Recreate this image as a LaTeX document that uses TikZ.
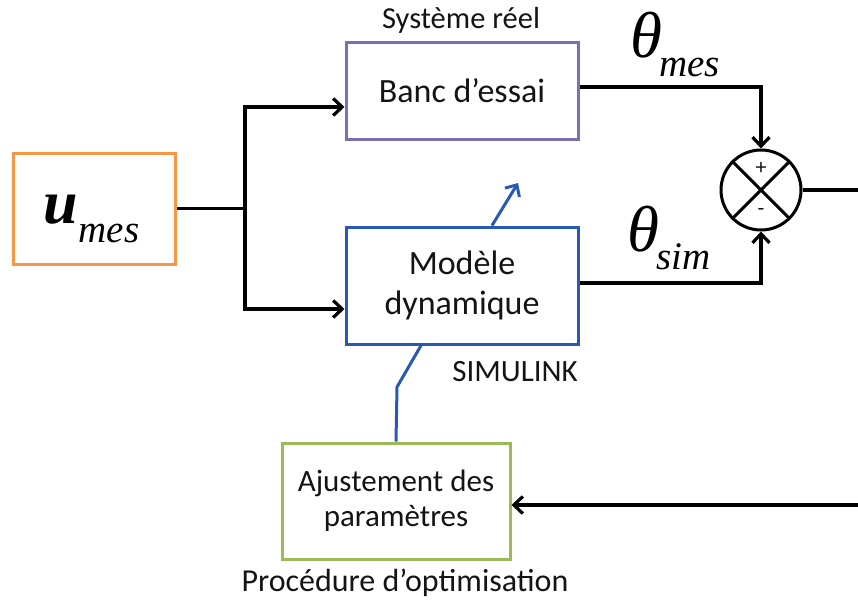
\documentclass[tikz,border=0pt]{standalone}
\usepackage{fontspec}
\setmainfont{Carlito}
\newfontfamily\tnr{Liberation Serif}
\usetikzlibrary{arrows.meta,calc}
\definecolor{cOrange}{RGB}{247,150,70}
\definecolor{cPurple}{RGB}{128,110,178}
\definecolor{cBlue}{RGB}{40,90,180}
\definecolor{cGreen}{RGB}{155,187,89}
\definecolor{cText}{RGB}{20,20,20}
\begin{document}
\begin{tikzpicture}[x=1pt,y=-1pt,
  box/.style={draw, line width=3pt, rectangle, inner sep=0pt, align=center, text=cText},
  conn/.style={line width=3.2pt, black},
  arr/.style={conn, -{Straight Barb[length=9pt,width=17pt]}},
  barr/.style={line width=3pt, cBlue, -{Straight Barb[length=9pt,width=17pt]}},
  lbl/.style={inner sep=0pt, text=cText},
  mathlbl/.style={inner sep=0pt, anchor=base west, text=black, font=\tnr\itshape}
]
\useasboundingbox (0,0) rectangle (858,600);

% boxes
\node[box, draw=cOrange, minimum width=162pt, minimum height=111pt] (umes) at (94,208.5) {};
\node[box, draw=cPurple, minimum width=232pt, minimum height=97pt,
      font=\fontsize{34}{40}\selectfont] (banc) at (462,90.5) {Banc d’essai};
\node[box, draw=cBlue, minimum width=232pt, minimum height=117pt,
      font=\fontsize{34}{40}\selectfont] (model) at (462,285.5) {Modèle\\dynamique};
\node[box, draw=cGreen, minimum width=228pt, minimum height=116pt,
      font=\fontsize{31}{35}\selectfont] (ajust) at (396,501) {Ajustement des\\paramètres};
\node[draw, circle, line width=3pt, minimum size=80pt, inner sep=0pt] (sum) at (761,190) {};

% labels
\node[lbl, font=\fontsize{30.5}{32}\selectfont] (sysreel) at (461,20) {Système réel};
\node[lbl, font=\fontsize{31}{32}\selectfont] (simu) at (515,372) {SIMULINK};
\node[lbl, font=\fontsize{32}{34}\selectfont] (proc) at (405,583) {Procédure d’optimisation};
\node[lbl, font=\fontsize{22}{22}\selectfont] (plus) at (761,168) {+};
\node[lbl, font=\fontsize{22}{22}\selectfont] (minus) at (761,212) {-};

\node[mathlbl] (ulbl) at (43,223)
  {\bfseries\fontsize{62}{62}\selectfont u\kern1pt\raisebox{-19pt}{\mdseries\fontsize{39}{39}\selectfont mes}};
\node[mathlbl] (thmes) at (630,57)
  {\fontsize{65}{65}\selectfont θ\kern-3pt\raisebox{-19pt}{\fontsize{39}{39}\selectfont mes}};
\node[mathlbl] (thsim) at (627,251)
  {\fontsize{65}{65}\selectfont θ\kern-3pt\raisebox{-18pt}{\fontsize{39}{39}\selectfont sim}};

% cross in summation
\draw[line width=3pt] (sum.north west) -- (sum.south east);
\draw[line width=3pt] (sum.north east) -- (sum.south west);

% connectors
\coordinate (j) at (245,208.5);
\draw[conn] (umes.east) -- (j);
\draw[arr] (j) |- ([yshift=-16.5pt]banc.west);
\draw[arr] (j) |- ([yshift=-23.5pt]model.west);
\draw[arr] ([yshift=3.5pt]banc.east) -| (sum.north);
\draw[arr] ([yshift=2.5pt]model.east) -| (sum.south);
\coordinate (r1) at (880,190);
\coordinate (r2) at (880,505);
\draw[arr] (sum.east) -- (r1) -- (r2) -- ([yshift=-4pt]ajust.east);

% blue links
\coordinate (bk) at (397,387);
\draw[line width=3pt, cBlue] (ajust.north) -- (bk) -- ([xshift=-41pt]model.south);
\coordinate (bt) at (518,183);
\draw[barr] ([xshift=30pt]model.north) -- (bt);
\end{tikzpicture}
\end{document}
